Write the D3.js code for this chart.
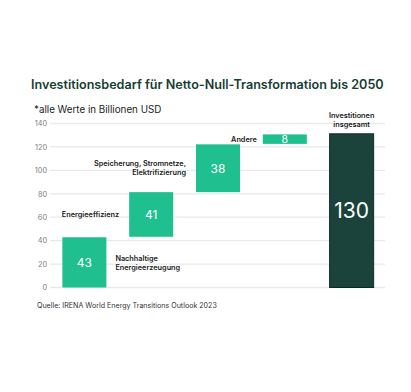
<!DOCTYPE html>
<html>
<head>
<meta charset="utf-8">
<script src="https://cdn.jsdelivr.net/npm/d3@7"></script>
<style>
  body { margin: 0; background: #fff; }
  svg { display: block; font-family: Inter, "Noto Sans", sans-serif; }
</style>
</head>
<body>
<svg width="411" height="392"></svg>
<script>
// categories and values
var categories = ["Nachhaltige Energieerzeugung", "Energieeffizienz", "Speicherung, Stromnetze, Elektrifizierung", "Andere", "Investitionen insgesamt"];
var valueLabels = [43, 41, 38, 8, 130];
// where each floating bar starts and ends on the axis (as drawn)
var barLow = [0, 43.3, 81.4, 122.6, 0];
var barHigh = [42.9, 81.4, 122.2, 130.7, 131.2];
var yTicks = [0, 20, 40, 60, 80, 100, 120, 140];
var annotations = [
    ["Nachhaltige", "Energieerzeugung"],
    ["Energieeffizienz"],
    ["Speicherung, Stromnetze,", "Elektrifizierung"],
    ["Andere"],
    ["Investitionen", "insgesamt"]
];

var green = "#1fbf8f";
var dark = "#1b433b";

var svg = d3.select("svg");

var yScale = d3.scaleLinear()
    .domain([0, 140])
    .range([287.5, 123.5]);

var xScale = d3.scaleBand()
    .domain(categories)
    .range([51, 385])
    .paddingInner(0.341)
    .paddingOuter(0.17);

// title + subtitle
svg.append("text")
    .attr("x", 31)
    .attr("y", 89)
    .attr("font-size", 12.6)
    .attr("font-weight", 600)
    .attr("fill", "#173d33")
    .text("Investitionsbedarf für Netto-Null-Transformation bis 2050");

svg.append("text")
    .attr("x", 34)
    .attr("y", 112.5)
    .attr("font-size", 9.8)
    .attr("fill", "#222")
    .text("*alle Werte in Billionen USD");

// grid lines
svg.append("g")
    .selectAll("line")
    .data(yTicks)
    .enter().append("line")
    .attr("x1", 50)
    .attr("x2", 385)
    .attr("y1", function(d) { return yScale(d); })
    .attr("y2", function(d) { return yScale(d); })
    .attr("stroke", "#e9e9e9")
    .attr("stroke-width", 1.3);

// y axis labels
var yAxis = d3.axisLeft(yScale).tickValues(yTicks).tickSize(0).tickPadding(0);
var yg = svg.append("g")
    .attr("transform", "translate(47,0)")
    .call(yAxis);
yg.select(".domain").remove();
yg.selectAll("text")
    .attr("font-family", "Inter, sans-serif")
    .attr("font-size", 7.3)
    .attr("fill", "#808080");

// bars
svg.append("g")
    .selectAll("rect")
    .data(categories)
    .enter().append("rect")
    .attr("x", function(d) { return xScale(d); })
    .attr("width", xScale.bandwidth())
    .attr("y", function(d, i) { return yScale(barHigh[i]); })
    .attr("height", function(d, i) { return yScale(barLow[i]) - yScale(barHigh[i]); })
    .attr("fill", function(d, i) { return i == 4 ? dark : green; })
    .attr("stroke", function(d, i) { return i == 4 ? "#0f2a24" : "none"; })
    .attr("stroke-width", 1);

// values inside bars
var valueSize = [12, 12, 12, 10.5, 21];
svg.append("g")
    .selectAll("text")
    .data(categories)
    .enter().append("text")
    .attr("x", function(d) { return xScale(d) + xScale.bandwidth() / 2; })
    .attr("y", function(d, i) { return (yScale(barLow[i]) + yScale(barHigh[i])) / 2; })
    .attr("dy", "0.36em")
    .attr("text-anchor", "middle")
    .attr("font-size", function(d, i) { return valueSize[i]; })
    .attr("fill", "#fff")
    .text(function(d, i) { return valueLabels[i]; });

// category annotations
function addLabel(lines, x, yMid, anchor) {
    var t = svg.append("text")
        .attr("text-anchor", anchor)
        .attr("font-size", 7.3)
        .attr("font-weight", 600)
        .attr("fill", "#1a1a1a");
    var lh = 9;
    var y0 = yMid - (lines.length - 1) * lh / 2;
    lines.forEach(function(l, k) {
        t.append("tspan")
            .attr("x", x)
            .attr("y", y0 + k * lh)
            .attr("dy", "0.35em")
            .text(l);
    });
}

var bw = xScale.bandwidth();
addLabel(annotations[0], xScale(categories[0]) + bw + 9, yScale(20.6), "start");
addLabel(annotations[1], xScale(categories[1]) - 10, (yScale(barLow[1]) + yScale(barHigh[1])) / 2, "end");
addLabel(annotations[2], xScale(categories[2]) - 10, (yScale(barLow[2]) + yScale(barHigh[2])) / 2, "end");
addLabel(annotations[3], xScale(categories[3]) - 6, (yScale(barLow[3]) + yScale(barHigh[3])) / 2, "end");
addLabel(annotations[4], xScale(categories[4]) + bw / 2, yScale(barHigh[4]) - 13.5, "middle");

// source
svg.append("text")
    .attr("x", 37)
    .attr("y", 305.5)
    .attr("dy", "0.35em")
    .attr("font-size", 7.1)
    .attr("fill", "#333")
    .text("Quelle: IRENA World Energy Transitions Outlook 2023");
</script>
</body>
</html>
